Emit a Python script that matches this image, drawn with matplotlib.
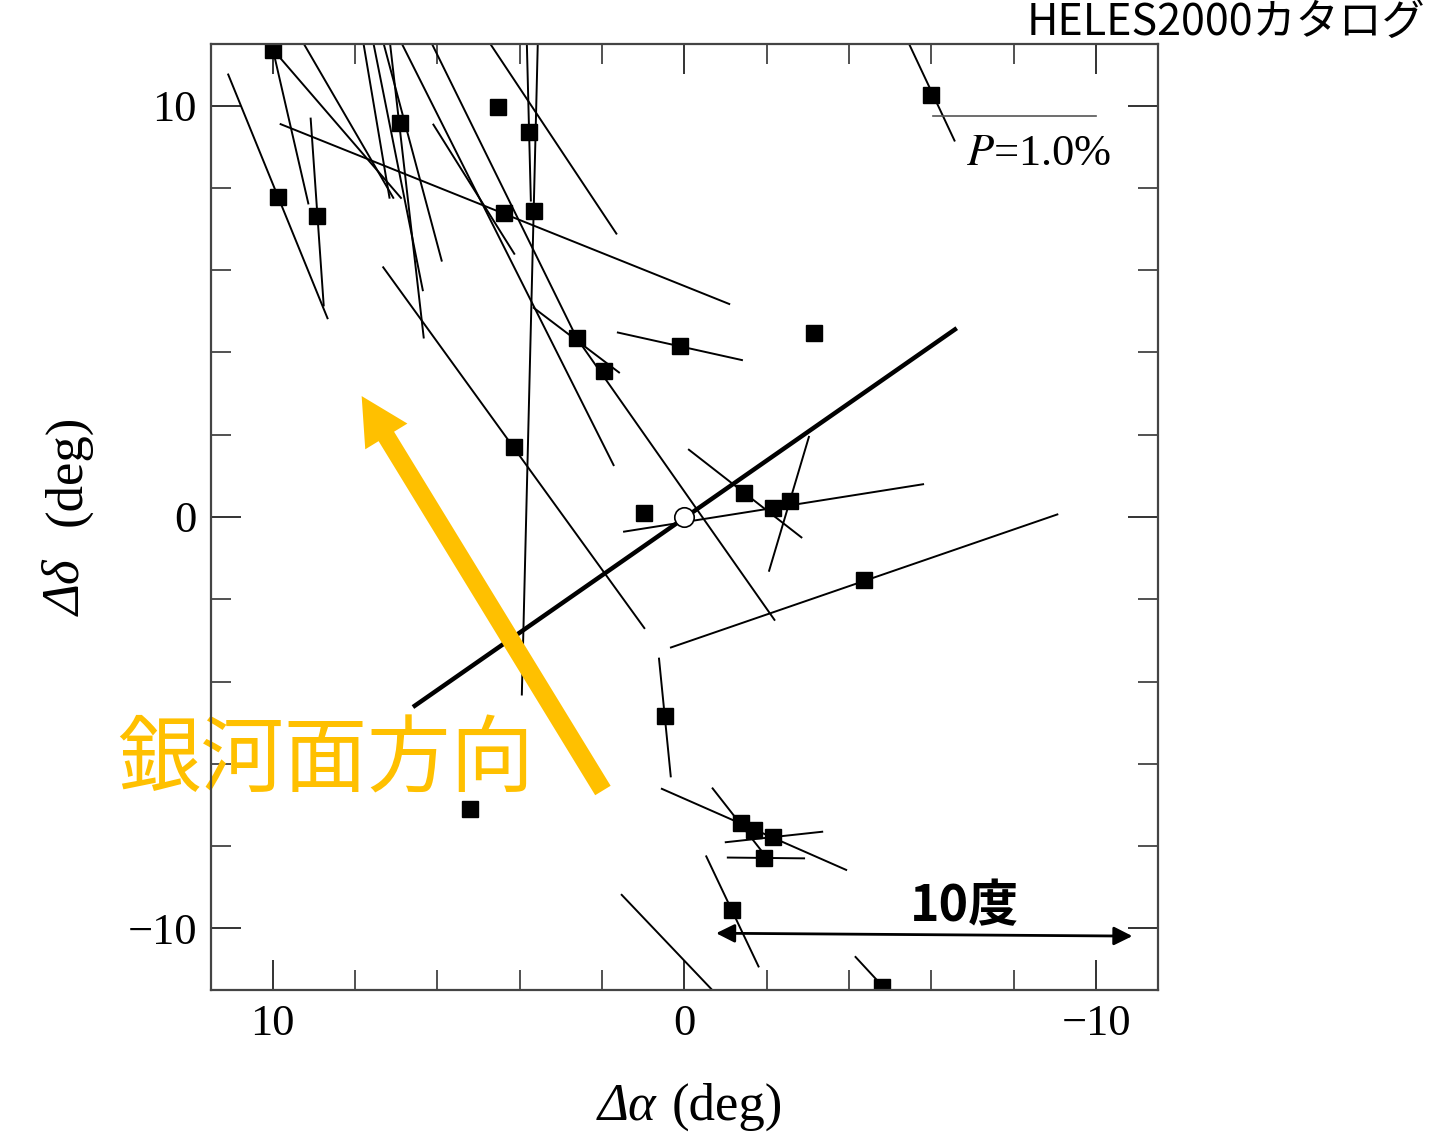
import matplotlib
matplotlib.use('Agg')
import matplotlib.pyplot as plt
from matplotlib.ticker import MultipleLocator
from matplotlib.patches import FancyArrow

plt.rcParams['font.family'] = ['Liberation Serif', 'DejaVu Serif']
plt.rcParams['mathtext.fontset'] = 'stix'

# polarization vectors, end points in (deg)
vec_x0 = [11.09, 10.05, 9.99, 9.30, 9.83, 9.08, 7.33, 7.81, 7.57, 7.33, 7.16,
          6.91, 6.18, 4.78, 3.83, 3.56, 6.11, 3.68, 2.61, 1.64, -0.09, -2.05,
          1.49, 0.35, 0.62, 0.57, -0.67, -0.98, -1.03, -0.52, 1.54, -4.14, -5.41]
vec_y0 = [10.78, 11.6, 11.36, 11.6, 9.56, 9.71, 6.09, 11.6, 11.6, 11.6, 11.6,
          11.6, 11.6, 11.6, 11.6, 11.6, 9.56, 5.10, 4.34, 4.49, 1.65, -1.33,
          -0.36, -3.18, -3.42, -6.60, -6.58, -7.91, -8.28, -8.23, -9.17, -10.68, 11.6]
vec_x1 = [8.66, 9.13, 6.87, 7.06, -1.11, 8.76, 0.96, 7.16, 6.35, 5.89, 6.33,
          1.71, 2.61, 1.64, 3.73, 3.95, 4.12, 1.57, -2.20, -1.42, -2.86, -3.03,
          -5.82, -9.08, 0.33, -3.95, -1.96, -3.37, -2.93, -1.81, -0.77, -4.99, -6.57]
vec_y1 = [4.81, 7.60, 7.74, 7.74, 5.17, 5.12, -2.72, 7.74, 5.49, 6.21, 4.34,
          1.24, 4.34, 6.87, 7.67, -4.34, 6.38, 3.50, -2.52, 3.81, -0.51, 1.97,
          0.80, 0.07, -6.33, -8.59, -8.23, -7.65, -8.30, -10.95, -11.6, -11.6, 9.13]

# star positions
star_x = [9.99, 9.88, 8.93, 6.91, 4.53, 3.78, 4.39, 3.66, 2.61, 1.96, 0.11, -3.15,
          4.14, 0.98, -1.45, -2.15, -2.56, -4.36, -5.99, 0.47, 5.21, -1.37, -1.69,
          -2.15, -1.93, -1.15, -4.80]
star_y = [11.36, 7.79, 7.33, 9.59, 9.98, 9.37, 7.38, 7.43, 4.34, 3.54, 4.15, 4.47,
          1.70, 0.10, 0.58, 0.22, 0.39, -1.53, 10.27, -4.83, -7.09, -7.43, -7.62,
          -7.77, -8.28, -9.56, -11.43]

# galactic plane
plane_x = [6.55, -6.57]
plane_y = [-4.59, 4.56]

# P=1.0% scale
pbar_x = [-6.04, -10.0]
pbar_y = 9.76

fig = plt.figure(figsize=(14.4, 11.34), dpi=100)
ax = fig.add_axes([0.1465, 0.127, 0.6576, 0.8342])

for a, b, c, d in zip(vec_x0, vec_y0, vec_x1, vec_y1):
    ax.plot([a, c], [b, d], color='k', lw=1.4, solid_capstyle='butt')

ax.plot(plane_x, plane_y, color='k', lw=3.2)
ax.plot(star_x, star_y, 's', color='k', ms=11)
ax.plot([0], [0], 'o', mfc='white', mec='k', ms=14, mew=1.2, zorder=4)

ax.plot(pbar_x, [pbar_y, pbar_y], color='#555555', lw=1.2)
ax.text(-6.84, 8.83, r'$\it{P}$=1.0%', fontsize=32, ha='left', va='center')

ax.set_xlim(11.5, -11.5)
ax.set_ylim(-11.5, 11.5)
ax.xaxis.set_major_locator(MultipleLocator(10))
ax.xaxis.set_minor_locator(MultipleLocator(2))
ax.yaxis.set_major_locator(MultipleLocator(10))
ax.yaxis.set_minor_locator(MultipleLocator(2))
ax.tick_params(which='both', direction='in', top=True, right=True,
               colors='#333333', labelcolor='k', labelsize=32)
ax.tick_params(which='major', length=21.6, width=1.4, pad=10)
ax.tick_params(which='minor', length=14.4, width=1.2)
for s in ax.spines.values():
    s.set_color('#444444')
    s.set_linewidth(1.6)

# galactic plane direction arrow
ax.add_patch(FancyArrow(1.98, -6.65, 5.86, 9.59, width=0.44, head_width=1.2,
                        head_length=1.15, length_includes_head=True,
                        color='#FFC000', lw=0, zorder=5))
ax.text(0.0813, 1 - 761 / 1134, '銀河面方向', transform=fig.transFigure, fontsize=60,
        color='#FFC000', family=['Noto Sans CJK JP'], ha='left', va='center',
        zorder=2.4, clip_on=False)

# 10 degree scale
ax.annotate('', xy=(-10.88, -10.19), xytext=(-0.77, -10.12),
            arrowprops=dict(arrowstyle='<|-|>', color='k', lw=2,
                            mutation_scale=28, shrinkA=0, shrinkB=0))
fig.text(0.670, 0.1878, '10度', fontsize=36, fontweight='bold',
         family=['Noto Sans CJK JP'], ha='center', va='baseline')

fig.text(0.713, 1 - 35 / 1134, 'HELES2000カタログ', fontsize=31,
         family=['Noto Sans CJK JP'], ha='left', va='baseline')

# axis labels: italic Greek part + upright unit
fig.text(656 / 1440, 1 - 1120 / 1134, 'Δα', fontsize=38, fontstyle='italic',
         ha='right', va='baseline')
fig.text(672 / 1440, 1 - 1120 / 1134, '(deg)', fontsize=38,
         ha='left', va='baseline')
fig.text(80 / 1440, 1 - 560 / 1134, 'Δδ', fontsize=38, fontstyle='italic',
         rotation=90, rotation_mode='anchor', ha='right', va='baseline')
fig.text(80 / 1440, 1 - 526 / 1134, '(deg)', fontsize=38,
         rotation=90, rotation_mode='anchor', ha='left', va='baseline')

fig.savefig('out.png', dpi=100)
